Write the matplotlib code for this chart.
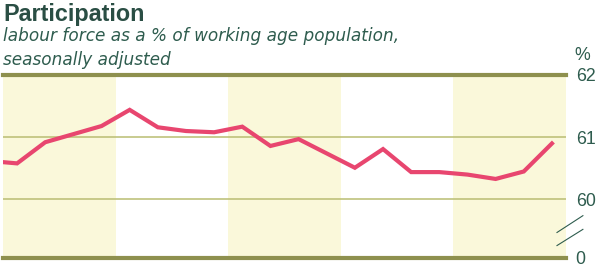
import matplotlib
matplotlib.use("Agg")
import matplotlib.pyplot as plt
import matplotlib.transforms as mtransforms

# ---- data ----
quarters = [-0.5, 0.5, 1.5, 2.5, 3.5, 4.5, 5.5, 6.5, 7.5, 8.5, 9.5,
            10.5, 11.5, 12.5, 13.5, 14.5, 15.5, 16.5, 17.5, 18.5, 19.5]
participation = [60.62, 60.58, 60.92, 61.05, 61.18, 61.44, 61.16, 61.10,
                 61.08, 61.17, 60.86, 60.97, 60.74, 60.51, 60.81, 60.44,
                 60.44, 60.40, 60.33, 60.45, 60.90]
shaded_bands = [(0, 4), (8, 12), (16, 20)]
y_bottom = 59.06   # axis break: bottom of axis labelled 0
tick_values = [y_bottom, 60, 61, 62]
tick_labels = ["0", "60", "61", "62"]

title = "Participation"
subtitle = "labour force as a % of working age population,\nseasonally adjusted"

# ---- style ----
text_col = "#2E5C4E"
shade_col = "#FAF8DA"
line_col = "#E8466F"
grid_col = "#B9BD72"
frame_col = "#8E904E"

plt.rcParams["font.family"] = ["Liberation Sans", "DejaVu Sans"]

fig = plt.figure(figsize=(6.0, 2.7), dpi=100)
ax = fig.add_axes([3 / 600, 1 - 258 / 270, 563 / 600, (258 - 75) / 270])

for a, b in shaded_bands:
    ax.axvspan(a, b, color=shade_col, lw=0, zorder=0)

ax.plot(quarters, participation, color=line_col, lw=3.0,
        solid_joinstyle="miter", zorder=3)

ax.set_xlim(0, 20)
ax.set_ylim(y_bottom, 62)
ax.set_xticks([])
ax.yaxis.tick_right()
ax.set_yticks(tick_values)
ax.set_yticklabels(tick_labels)
ax.tick_params(axis="y", length=0, pad=7, labelsize=12.8, labelcolor=text_col)
ax.grid(axis="y", color=grid_col, lw=1.1, zorder=1)

for s in ["left", "right"]:
    ax.spines[s].set_visible(False)
for s in ["top", "bottom"]:
    ax.spines[s].set_color(frame_col)
    ax.spines[s].set_linewidth(3.0)
    ax.spines[s].set_zorder(4)

# axis break marks
trans = mtransforms.blended_transform_factory(ax.transAxes, ax.transData)
for y0, y1 in [(59.47, 59.74), (59.26, 59.52)]:
    ax.plot([0.984, 1.030], [y0, y1], color=text_col, lw=0.8,
            transform=trans, clip_on=False)

fig.text(574 / 600, 1 - 55 / 270, "%", color=text_col, fontsize=12.8,
         ha="left", va="center")

fig.text(3 / 600, 1 - 14 / 270, title, color="#2A4E44", fontsize=16.8,
         fontweight="bold", ha="left", va="center")
fig.text(3 / 600, 1 - 27 / 270, subtitle, color=text_col, fontsize=12.2,
         family=["DejaVu Sans"], style="italic", ha="left", va="top",
         linespacing=1.4)

fig.savefig("out.png", dpi=100)
